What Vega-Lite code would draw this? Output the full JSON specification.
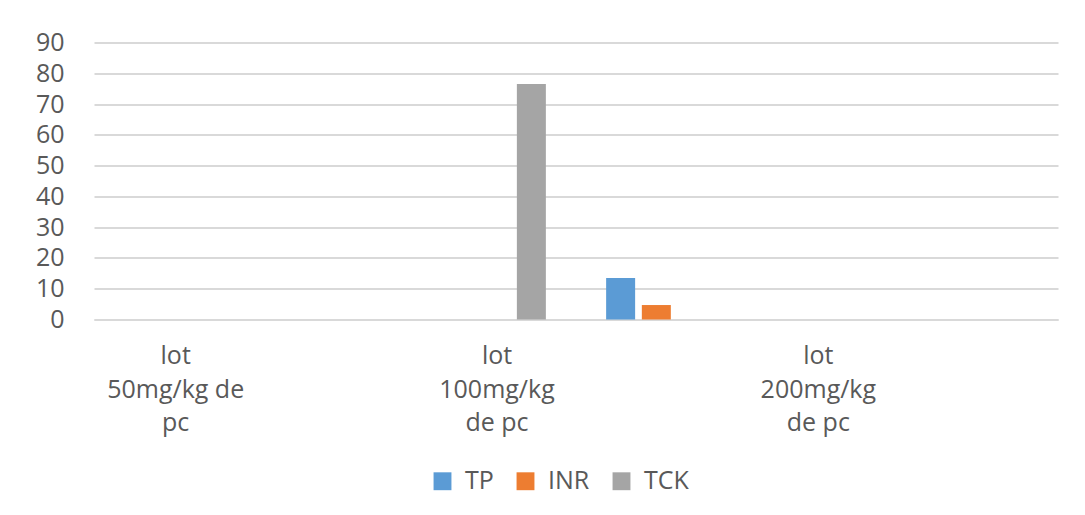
{
  "$schema": "https://vega.github.io/schema/vega-lite/v6.json",
  "autosize": {"type": "none"},
  "width": 964,
  "height": 277,
  "padding": {"left": 94, "top": 42.5, "right": 27, "bottom": 195.5},
  "background": "white",
  "config": {
    "view": {"stroke": null},
    "font": "Open Sans",
    "axis": {"labelColor": "#595959", "labelFont": "Open Sans", "labelFontSize": 25, "labelFontWeight": "normal"},
    "legend": {"labelColor": "#595959", "labelFont": "Open Sans", "labelFontSize": 25}
  },
  "data": {
    "values": [
      {"lot": "lot 100mg/kg de pc", "serie": "TCK", "valeur": 76.5},
      {"lot": "lot 100mg/kg de pc", "serie": "TP", "valeur": 13.5},
      {"lot": "lot 100mg/kg de pc", "serie": "INR", "valeur": 4.7}
    ]
  },
  "mark": {"type": "bar", "width": 29},
  "encoding": {
    "x": {
      "field": "lot",
      "type": "nominal",
      "sort": null,
      "scale": {"domain": ["lot 50mg/kg de pc", "lot 100mg/kg de pc", "lot 200mg/kg de pc"], "paddingInner": 0, "paddingOuter": 0},
      "axis": {
        "title": null,
        "labelAngle": 0,
        "labelAlign": "center",
        "labelBaseline": "top",
        "labelPadding": 24,
        "labelOffset": -79,
        "labelLineHeight": 33.5,
        "labelLimit": 0,
        "ticks": false,
        "domain": true,
        "domainColor": "#d9d9d9",
        "domainWidth": 2,
        "labelExpr": "datum.value == 'lot 50mg/kg de pc' ? ['lot', '50mg/kg de', 'pc'] : datum.value == 'lot 100mg/kg de pc' ? ['lot', '100mg/kg', 'de pc'] : ['lot', '200mg/kg', 'de pc']"
      }
    },
    "xOffset": {
      "field": "serie",
      "type": "nominal",
      "scale": {
        "domain": ["_0", "_1", "_2", "_3", "_4", "_5", "TCK", "_7", "_8", "_9", "_10", "TP", "_12", "INR", "_14", "_15", "_16", "_17"],
        "paddingInner": 0,
        "paddingOuter": 0
      }
    },
    "y": {
      "field": "valeur",
      "type": "quantitative",
      "scale": {"domain": [0, 90], "nice": false},
      "axis": {
        "title": null,
        "values": [0, 10, 20, 30, 40, 50, 60, 70, 80, 90],
        "grid": true,
        "gridColor": "#d9d9d9",
        "gridWidth": 2,
        "domain": false,
        "ticks": false,
        "labelPadding": 30
      }
    },
    "color": {
      "field": "serie",
      "type": "nominal",
      "scale": {"domain": ["TP", "INR", "TCK"], "range": ["#5B9BD5", "#ED7D31", "#A5A5A5"]},
      "legend": {
        "title": null,
        "orient": "none",
        "direction": "horizontal",
        "legendX": 336,
        "legendY": 426,
        "symbolType": "square",
        "symbolSize": 320,
        "symbolStrokeWidth": 0,
        "labelOffset": 10,
        "columnPadding": 19,
        "padding": 0
      }
    }
  }
}
